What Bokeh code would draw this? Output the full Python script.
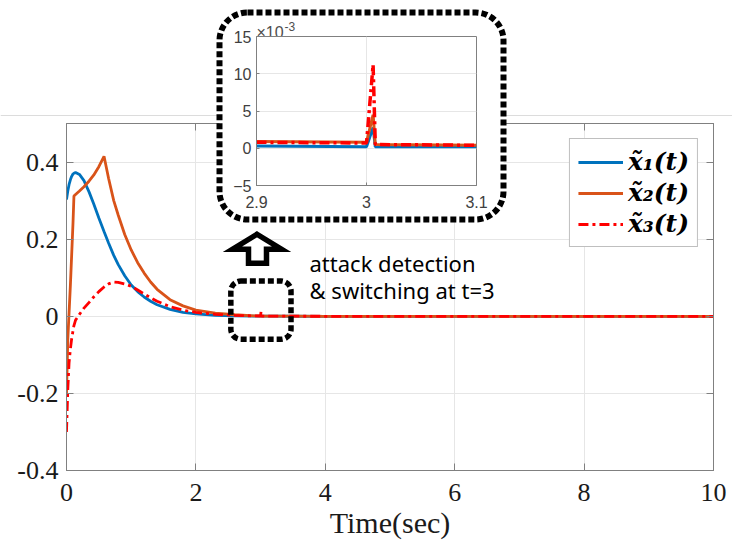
import numpy as np
from bokeh.plotting import figure
from bokeh.models import (Range1d, FixedTicker, BoxAnnotation, Label, Span, LinearAxis,
                          Legend, LegendItem, ColumnDataSource)
from bokeh.embed import file_html
from bokeh.resources import INLINE

# ---------------- data ----------------
time = [0, 0.02, 0.04, 0.06, 0.08, 0.10, 0.115, 0.14, 0.2, 0.27, 0.35, 0.42, 0.5, 0.58,
        0.65, 0.73, 0.8, 0.9, 1.0, 1.1, 1.2, 1.3, 1.4, 1.6, 1.8, 2.0, 2.3, 2.6, 2.9,
        3.0, 3.006, 3.008, 3.1, 3.5, 4.0, 5.0, 6.0, 7.0, 8.0, 9.0, 10.0]
x1 = [0.303, 0.325, 0.342, 0.354, 0.363, 0.369, 0.371, 0.373, 0.368, 0.352, 0.322, 0.292,
      0.255, 0.220, 0.190, 0.158, 0.134, 0.105, 0.081, 0.064, 0.050, 0.039, 0.030, 0.018,
      0.010, 0.006, 0.0025, 0.001, 0.0003, 0.0002, 0.0028, 0.0002, 0.0002, 0.0001,
      0.0, 0.0, 0.0, 0.0, 0.0, 0.0, 0.0]
x2 = [-0.2, -0.06, 0.01, 0.08, 0.16, 0.24, 0.312, 0.316, 0.325, 0.336, 0.351, 0.366,
      0.388, 0.415, 0.358, 0.300, 0.262, 0.212, 0.172, 0.139, 0.112, 0.089, 0.070, 0.043,
      0.027, 0.016, 0.008, 0.004, 0.0009, 0.0008, 0.0045, 0.0005, 0.0004, 0.0002,
      0.0, 0.0, 0.0, 0.0, 0.0, 0.0, 0.0]
x3 = [-0.30, -0.19, -0.12, -0.085, -0.058, -0.038, -0.024, -0.010, 0.005, 0.021, 0.036,
      0.050, 0.064, 0.076, 0.084, 0.089, 0.088, 0.084, 0.078, 0.068, 0.058, 0.048, 0.039,
      0.025, 0.016, 0.010, 0.005, 0.0025, 0.0008, 0.0007, 0.0112, 0.0005, 0.0004, 0.0002,
      0.0, 0.0, 0.0, 0.0, 0.0, 0.0, 0.0]

legend_labels = ["x\u0303\u2081(t)", "x\u0303\u2082(t)", "x\u0303\u2083(t)"]
x_ticks = [0, 2, 4, 6, 8, 10]
y_ticks = [-0.4, -0.2, 0, 0.2, 0.4]
y_tick_labels = ["-0.4", "-0.2", "0", "0.2", "0.4"]
inset_x_ticks = [2.9, 3.0, 3.1]
inset_x_tick_labels = ["2.9", "3", "3.1"]
inset_y_ticks = [-5, 0, 5, 10, 15]
inset_scale = 1000.0
inset_exponent = ["\u00d710", "-3"]
annotation_lines = ["attack detection", "& switching at t=3"]

BLUE, ORANGE, RED = "#0072BD", "#D95319", "#FF0000"
AXC = "#808080"
GRIDC = "#e6e6e6"
DASHDOT = "10 4 3 4"
W, H = 732, 554

src = ColumnDataSource(dict(t=time, x1=x1, x2=x2, x3=x3))

# ---------------- main figure ----------------
p = figure(width=W, height=H, x_range=Range1d(0, 10), y_range=Range1d(-0.4, 0.5),
           output_backend="svg", toolbar_location=None,
           min_border_left=66, min_border_right=19, min_border_top=123, min_border_bottom=84)
p.background_fill_color = "white"
p.border_fill_color = "white"
p.outline_line_color = AXC

p.xaxis.ticker = FixedTicker(ticks=x_ticks)
p.yaxis.ticker = FixedTicker(ticks=y_ticks)
p.yaxis.major_label_overrides = dict(zip(y_ticks, y_tick_labels))
for ax in (p.xaxis[0], p.yaxis[0]):
    ax.axis_line_color = AXC
    ax.major_tick_line_color = AXC
    ax.major_tick_in = 7
    ax.major_tick_out = 0
    ax.minor_tick_line_color = None
    ax.major_label_text_font = "Liberation Serif"
    ax.major_label_text_font_size = "26px"
    ax.major_label_text_color = "#1a1a1a"
p.xaxis.major_label_standoff = 13
p.yaxis.major_label_standoff = 8
p.xaxis.axis_label = "Time(sec)"
p.xaxis.axis_label_text_font = "Liberation Serif"
p.xaxis.axis_label_text_font_size = "30px"
p.xaxis.axis_label_text_font_style = "normal"
p.xaxis.axis_label_text_color = "#1a1a1a"
p.xaxis.axis_label_standoff = 2

# box ticks on the top and right edges (no labels)
for loc, tk in (("above", x_ticks), ("right", y_ticks)):
    p.add_layout(LinearAxis(ticker=FixedTicker(ticks=tk), axis_line_color=AXC,
                            major_tick_line_color=AXC, major_tick_in=7, major_tick_out=0,
                            minor_tick_line_color=None, major_label_text_font_size="1px",
                            major_label_text_color=None, major_label_standoff=0), loc)

p.grid.grid_line_color = GRIDC
p.grid.grid_line_width = 1

r1 = p.line("t", "x1", source=src, line_color=BLUE, line_width=2.8)
r2 = p.line("t", "x2", source=src, line_color=ORANGE, line_width=2.8)
r3 = p.line("t", "x3", source=src, line_color=RED, line_width=2.8, line_dash=DASHDOT)

legend = Legend(items=[LegendItem(label=legend_labels[0], renderers=[r1]),
                       LegendItem(label=legend_labels[1], renderers=[r2]),
                       LegendItem(label=legend_labels[2], renderers=[r3])],
                location="top_right")
legend.margin = 15
legend.padding = 8
legend.spacing = 2
legend.glyph_width = 45
legend.glyph_height = 28
legend.label_height = 28
legend.label_standoff = 5
legend.border_line_color = AXC
legend.border_line_width = 1
legend.background_fill_color = "white"
legend.background_fill_alpha = 1
legend.label_text_font = "DejaVu Serif"
legend.label_text_font_style = "bold italic"
legend.label_text_font_size = "25px"
legend.label_text_color = "black"
p.add_layout(legend)

# small dotted box around t=3
p.add_layout(BoxAnnotation(left=2.54, right=3.47, top=0.0915, bottom=-0.0596,
                           fill_color=None, line_color="black", line_alpha=1,
                           line_width=5.5, line_dash="6 3", border_radius=10))

# hollow up arrow
arrow_x = [2.944, 3.323, 3.091, 3.091, 2.813, 2.813, 2.566]
arrow_y = [0.2127, 0.1738, 0.1738, 0.1374, 0.1374, 0.1738, 0.1738]
p.patch(arrow_x, arrow_y, fill_color="white", line_color="black", line_width=5.5,
        line_join="miter")

for txt, yy in zip(annotation_lines, (0.138, 0.068)):
    p.add_layout(Label(x=3.756, y=yy, text=txt, text_font="Noto Sans",
                       text_font_size="22px", text_color="black",
                       text_baseline="alphabetic", text_align="left"))

# ---------------- overlay (pixel space): separator line, dotted frame, exponent ----------------
ov = figure(width=W, height=H, x_range=Range1d(0, W), y_range=Range1d(H, 0),
            output_backend="svg", toolbar_location=None,
            x_axis_location=None, y_axis_location=None,
            min_border=0, min_border_left=0, min_border_right=0,
            min_border_top=0, min_border_bottom=0)
ov.grid.visible = False
ov.outline_line_color = None
ov.background_fill_color = None
ov.border_fill_color = None
ov.add_layout(Span(location=115, dimension="width", line_color="#dcdcdc", line_width=1))
ov.add_layout(BoxAnnotation(left=219, right=503, top=12, bottom=219,
                            fill_color="white", fill_alpha=1,
                            line_color="black", line_alpha=1, line_width=6,
                            line_dash="6 3", border_radius=28))
ov.add_layout(Label(x=256, y=32, text=inset_exponent[0], text_font="Liberation Sans",
                    text_font_size="16px", text_color="#4d4d4d",
                    text_baseline="alphabetic", text_align="left"))
ov.add_layout(Label(x=284, y=26, text=inset_exponent[1], text_font="Liberation Sans",
                    text_font_size="12px", text_color="#4d4d4d",
                    text_baseline="alphabetic", text_align="left"))

# ---------------- inset figure ----------------
t_arr = np.array(time)
mask = (t_arr >= 2.9) & (t_arr <= 3.1)
isrc = ColumnDataSource(dict(t=t_arr[mask],
                             x1=np.array(x1)[mask] * inset_scale,
                             x2=np.array(x2)[mask] * inset_scale,
                             x3=np.array(x3)[mask] * inset_scale))

pi = figure(width=298, height=221, x_range=Range1d(2.9, 3.1), y_range=Range1d(-5, 15),
            output_backend="svg", toolbar_location=None,
            min_border_left=44, min_border_right=34, min_border_top=31, min_border_bottom=41)
pi.background_fill_color = "white"
pi.border_fill_color = None
pi.outline_line_color = AXC
pi.xaxis.ticker = FixedTicker(ticks=inset_x_ticks)
pi.xaxis.major_label_overrides = dict(zip(inset_x_ticks, inset_x_tick_labels))
pi.yaxis.ticker = FixedTicker(ticks=inset_y_ticks)
for ax in (pi.xaxis[0], pi.yaxis[0]):
    ax.axis_line_color = AXC
    ax.major_tick_line_color = AXC
    ax.major_tick_in = 3
    ax.major_tick_out = 0
    ax.minor_tick_line_color = None
    ax.major_label_text_font = "Liberation Sans"
    ax.major_label_text_font_size = "16px"
    ax.major_label_text_color = "#404040"
pi.xaxis.major_label_standoff = 10
pi.yaxis.major_label_standoff = 5
pi.grid.grid_line_color = GRIDC

pi.line("t", "x1", source=isrc, line_color=BLUE, line_width=3)
pi.line("t", "x2", source=isrc, line_color=ORANGE, line_width=3)
pi.line("t", "x3", source=isrc, line_color=RED, line_width=3.5, line_dash=DASHDOT)

template = """
{% block contents %}
<div style="position:relative;width:732px;height:554px;">
<div style="position:absolute;left:0px;top:0px;">{{ embed(roots[0]) }}</div>
<div style="position:absolute;left:0px;top:0px;">{{ embed(roots[1]) }}</div>
<div style="position:absolute;left:212px;top:5px;">{{ embed(roots[2]) }}</div>
</div>
{% endblock %}
"""

open("out.html", "w").write(file_html([p, ov, pi], INLINE, template=template))
